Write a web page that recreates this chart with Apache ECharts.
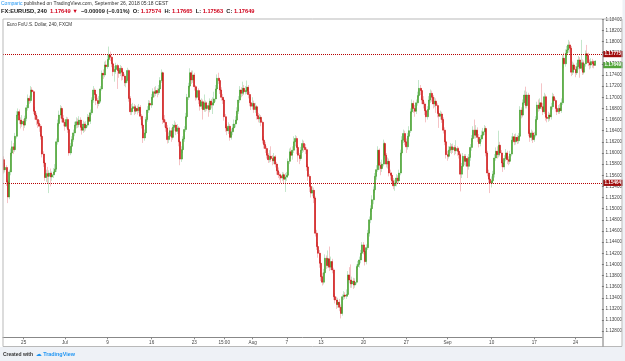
<!DOCTYPE html>
<html>
<head>
<meta charset="utf-8">
<script src="https://cdn.jsdelivr.net/npm/echarts@6/dist/echarts.min.js"></script>
<style>
html, body { margin: 0; padding: 0; background: #fff; }
#chart { width: 625px; height: 361px; }
</style>
</head>
<body>
<div id="chart"></div>
<script>
// EURUSD 4H candles (open of each bar = previous close)
var firstOpen = 1.1588;
var closes = [
    1.1570,1.1574,1.1548,1.1521,1.1566,1.1600,1.1611,1.1606,1.1630,1.1668,
    1.1674,1.1659,1.1652,1.1657,1.1650,1.1662,1.1681,1.1698,1.1694,1.1713,
    1.1710,1.1675,1.1668,1.1660,1.1653,1.1648,1.1630,1.1598,1.1582,1.1556,
    1.1563,1.1558,1.1564,1.1557,1.1561,1.1566,1.1571,1.1620,1.1653,1.1668,
    1.1680,1.1662,1.1655,1.1648,1.1660,1.1642,1.1600,1.1612,1.1624,1.1636,
    1.1650,1.1656,1.1651,1.1659,1.1646,1.1641,1.1652,1.1645,1.1650,1.1664,
    1.1657,1.1672,1.1695,1.1713,1.1705,1.1694,1.1689,1.1693,1.1715,1.1743,
    1.1740,1.1758,1.1755,1.1768,1.1776,1.1772,1.1760,1.1746,1.1750,1.1757,
    1.1748,1.1743,1.1752,1.1745,1.1738,1.1726,1.1730,1.1748,1.1698,1.1674,
    1.1680,1.1683,1.1675,1.1680,1.1676,1.1682,1.1666,1.1650,1.1627,1.1636,
    1.1660,1.1677,1.1689,1.1686,1.1700,1.1710,1.1707,1.1712,1.1708,1.1715,
    1.1730,1.1744,1.1660,1.1655,1.1645,1.1624,1.1630,1.1640,1.1628,1.1646,
    1.1650,1.1639,1.1645,1.1620,1.1589,1.1606,1.1625,1.1642,1.1665,1.1700,
    1.1720,1.1744,1.1731,1.1740,1.1719,1.1700,1.1712,1.1695,1.1684,1.1692,
    1.1678,1.1690,1.1680,1.1685,1.1678,1.1693,1.1686,1.1690,1.1697,1.1715,
    1.1734,1.1730,1.1713,1.1700,1.1695,1.1665,1.1645,1.1640,1.1648,1.1628,
    1.1638,1.1645,1.1652,1.1659,1.1675,1.1695,1.1713,1.1707,1.1716,1.1710,
    1.1712,1.1718,1.1705,1.1690,1.1684,1.1689,1.1678,1.1683,1.1667,1.1661,
    1.1664,1.1655,1.1623,1.1615,1.1608,1.1596,1.1588,1.1594,1.1590,1.1586,
    1.1593,1.1580,1.1568,1.1561,1.1559,1.1555,1.1561,1.1553,1.1557,1.1560,
    1.1585,1.1602,1.1596,1.1605,1.1620,1.1626,1.1610,1.1596,1.1590,1.1605,
    1.1617,1.1610,1.1606,1.1575,1.1558,1.1540,1.1528,1.1533,1.1519,1.1456,
    1.1432,1.1420,1.1402,1.1378,1.1368,1.1385,1.1411,1.1398,1.1410,1.1395,
    1.1405,1.1390,1.1342,1.1336,1.1328,1.1332,1.1323,1.1312,1.1342,1.1345,
    1.1343,1.1346,1.1381,1.1372,1.1365,1.1370,1.1363,1.1368,1.1396,1.1400,
    1.1408,1.1420,1.1435,1.1423,1.1405,1.1430,1.1456,1.1480,1.1500,1.1516,
    1.1534,1.1558,1.1570,1.1605,1.1578,1.1572,1.1580,1.1617,1.1596,1.1580,
    1.1585,1.1564,1.1560,1.1550,1.1541,1.1546,1.1555,1.1550,1.1564,1.1600,
    1.1623,1.1635,1.1620,1.1611,1.1630,1.1640,1.1674,1.1689,1.1680,1.1675,
    1.1690,1.1703,1.1716,1.1712,1.1695,1.1688,1.1676,1.1665,1.1678,1.1695,
    1.1707,1.1700,1.1688,1.1693,1.1685,1.1671,1.1666,1.1670,1.1660,1.1641,
    1.1620,1.1597,1.1594,1.1605,1.1611,1.1606,1.1610,1.1604,1.1608,1.1603,
    1.1597,1.1562,1.1576,1.1594,1.1585,1.1590,1.1576,1.1592,1.1610,1.1626,
    1.1641,1.1632,1.1641,1.1628,1.1617,1.1625,1.1632,1.1638,1.1644,1.1600,
    1.1564,1.1553,1.1546,1.1550,1.1562,1.1591,1.1603,1.1597,1.1614,1.1600,
    1.1582,1.1575,1.1590,1.1600,1.1588,1.1585,1.1598,1.1623,1.1629,1.1620,
    1.1628,1.1622,1.1630,1.1677,1.1668,1.1690,1.1704,1.1685,1.1704,1.1635,
    1.1628,1.1636,1.1624,1.1632,1.1660,1.1686,1.1680,1.1690,1.1683,1.1674,
    1.1701,1.1664,1.1662,1.1668,1.1665,1.1683,1.1701,1.1694,1.1680,1.1674,
    1.1680,1.1676,1.1690,1.1770,1.1760,1.1779,1.1785,1.1794,1.1788,1.1745,
    1.1758,1.1750,1.1744,1.1755,1.1767,1.1752,1.1762,1.1745,1.1760,1.1778,
    1.1775,1.1762,1.1758,1.1764,1.1760,1.17574,1.17649
];
var highs = [
    1.1594,1.1582,1.1578,1.1552,1.1570,1.1608,1.1622,1.1618,1.1636,1.1675,
    1.1680,1.1678,1.1664,1.1668,1.1661,1.1667,1.1686,1.1705,1.1703,1.1720,
    1.1718,1.1713,1.1683,1.1672,1.1666,1.1659,1.1652,1.1634,1.1603,1.1587,
    1.1570,1.1575,1.1569,1.1572,1.1567,1.1573,1.1580,1.1626,1.1660,1.1676,
    1.1686,1.1684,1.1668,1.1660,1.1665,1.1664,1.1645,1.1618,1.1630,1.1642,
    1.1656,1.1664,1.1662,1.1666,1.1664,1.1652,1.1658,1.1656,1.1657,1.1670,
    1.1668,1.1678,1.1700,1.1720,1.1716,1.1708,1.1699,1.1702,1.1720,1.1748,
    1.1750,1.1764,1.1766,1.1776,1.1791,1.1782,1.1775,1.1764,1.1756,1.1762,
    1.1760,1.1753,1.1758,1.1756,1.1750,1.1742,1.1737,1.1753,1.1750,1.1702,
    1.1688,1.1690,1.1688,1.1686,1.1685,1.1688,1.1686,1.1670,1.1654,1.1642,
    1.1665,1.1684,1.1695,1.1694,1.1706,1.1716,1.1718,1.1720,1.1716,1.1722,
    1.1736,1.1750,1.1746,1.1668,1.1660,1.1650,1.1637,1.1646,1.1645,1.1652,
    1.1658,1.1655,1.1652,1.1648,1.1624,1.1612,1.1630,1.1648,1.1672,1.1706,
    1.1726,1.1752,1.1748,1.1748,1.1744,1.1722,1.1718,1.1716,1.1700,1.1698,
    1.1696,1.1705,1.1694,1.1692,1.1690,1.1698,1.1697,1.1700,1.1710,1.1722,
    1.1741,1.1744,1.1735,1.1718,1.1706,1.1698,1.1670,1.1652,1.1655,1.1652,
    1.1644,1.1652,1.1660,1.1666,1.1682,1.1702,1.1720,1.1718,1.1728,1.1722,
    1.1720,1.1730,1.1722,1.1710,1.1700,1.1700,1.1694,1.1690,1.1686,1.1672,
    1.1670,1.1668,1.1658,1.1630,1.1620,1.1612,1.1600,1.1605,1.1612,1.1596,
    1.1600,1.1596,1.1584,1.1574,1.1566,1.1563,1.1566,1.1565,1.1564,1.1566,
    1.1590,1.1608,1.1610,1.1612,1.1630,1.1632,1.1630,1.1614,1.1600,1.1611,
    1.1624,1.1622,1.1616,1.1610,1.1580,1.1562,1.1546,1.1540,1.1538,1.1522,
    1.1462,1.1440,1.1426,1.1408,1.1385,1.1392,1.1418,1.1416,1.1425,1.1432,
    1.1414,1.1410,1.1394,1.1348,1.1342,1.1340,1.1338,1.1328,1.1346,1.1352,
    1.1350,1.1355,1.1388,1.1395,1.1400,1.1378,1.1376,1.1375,1.1400,1.1406,
    1.1414,1.1426,1.1440,1.1440,1.1428,1.1436,1.1462,1.1486,1.1506,1.1524,
    1.1540,1.1564,1.1578,1.1612,1.1608,1.1584,1.1588,1.1624,1.1620,1.1600,
    1.1592,1.1590,1.1570,1.1566,1.1555,1.1552,1.1562,1.1560,1.1570,1.1606,
    1.1630,1.1642,1.1640,1.1626,1.1636,1.1648,1.1680,1.1696,1.1694,1.1686,
    1.1696,1.1710,1.1731,1.1722,1.1716,1.1702,1.1692,1.1680,1.1684,1.1702,
    1.1714,1.1712,1.1704,1.1700,1.1698,1.1689,1.1676,1.1676,1.1674,1.1664,
    1.1646,1.1624,1.1604,1.1612,1.1618,1.1616,1.1617,1.1614,1.1623,1.1612,
    1.1610,1.1600,1.1582,1.1600,1.1598,1.1598,1.1594,1.1598,1.1616,1.1632,
    1.1648,1.1660,1.1650,1.1646,1.1634,1.1632,1.1640,1.1645,1.1650,1.1648,
    1.1604,1.1570,1.1560,1.1558,1.1568,1.1598,1.1610,1.1612,1.1640,1.1620,
    1.1605,1.1588,1.1596,1.1607,1.1604,1.1594,1.1604,1.1630,1.1636,1.1634,
    1.1635,1.1632,1.1636,1.1684,1.1682,1.1696,1.1712,1.1719,1.1710,1.1708,
    1.1642,1.1642,1.1640,1.1638,1.1666,1.1692,1.1696,1.1698,1.1725,1.1690,
    1.1708,1.1705,1.1670,1.1674,1.1672,1.1690,1.1708,1.1706,1.1698,1.1686,
    1.1686,1.1688,1.1698,1.1776,1.1780,1.1786,1.1792,1.1803,1.1800,1.1792,
    1.1764,1.1762,1.1756,1.1762,1.1774,1.1772,1.1803,1.1768,1.1766,1.1784,
    1.1794,1.1780,1.1768,1.1770,1.1769,1.1766,1.17665
];
var lows = [
    1.1563,1.1565,1.1541,1.1510,1.1517,1.1560,1.1594,1.1598,1.1602,1.1626,
    1.1660,1.1652,1.1644,1.1647,1.1640,1.1645,1.1657,1.1676,1.1688,1.1690,
    1.1700,1.1670,1.1660,1.1650,1.1645,1.1638,1.1624,1.1592,1.1575,1.1550,
    1.1548,1.1545,1.1528,1.1540,1.1550,1.1555,1.1560,1.1566,1.1615,1.1648,
    1.1662,1.1655,1.1648,1.1640,1.1644,1.1636,1.1595,1.1596,1.1606,1.1620,
    1.1630,1.1644,1.1645,1.1646,1.1640,1.1633,1.1636,1.1638,1.1640,1.1646,
    1.1650,1.1652,1.1668,1.1690,1.1698,1.1686,1.1680,1.1684,1.1690,1.1712,
    1.1733,1.1736,1.1748,1.1751,1.1764,1.1765,1.1754,1.1738,1.1728,1.1742,
    1.1715,1.1735,1.1738,1.1730,1.1731,1.1720,1.1718,1.1726,1.1692,1.1668,
    1.1668,1.1674,1.1668,1.1670,1.1669,1.1672,1.1660,1.1644,1.1618,1.1622,
    1.1632,1.1656,1.1672,1.1679,1.1681,1.1695,1.1700,1.1702,1.1700,1.1704,
    1.1711,1.1726,1.1652,1.1646,1.1638,1.1617,1.1618,1.1625,1.1620,1.1624,
    1.1640,1.1632,1.1634,1.1612,1.1578,1.1584,1.1600,1.1620,1.1638,1.1660,
    1.1695,1.1716,1.1724,1.1726,1.1712,1.1694,1.1696,1.1688,1.1676,1.1679,
    1.1660,1.1674,1.1674,1.1676,1.1665,1.1673,1.1680,1.1670,1.1685,1.1692,
    1.1710,1.1724,1.1706,1.1694,1.1688,1.1658,1.1638,1.1632,1.1634,1.1622,
    1.1624,1.1632,1.1640,1.1646,1.1654,1.1670,1.1690,1.1700,1.1702,1.1704,
    1.1705,1.1706,1.1698,1.1684,1.1677,1.1678,1.1672,1.1672,1.1660,1.1655,
    1.1654,1.1648,1.1617,1.1608,1.1600,1.1590,1.1582,1.1583,1.1584,1.1578,
    1.1580,1.1574,1.1561,1.1555,1.1552,1.1546,1.1550,1.1546,1.1530,1.1550,
    1.1555,1.1580,1.1590,1.1588,1.1600,1.1612,1.1598,1.1584,1.1580,1.1586,
    1.1600,1.1602,1.1598,1.1568,1.1550,1.1530,1.1520,1.1522,1.1510,1.1450,
    1.1426,1.1412,1.1394,1.1370,1.1362,1.1364,1.1380,1.1392,1.1394,1.1388,
    1.1390,1.1384,1.1336,1.1330,1.1320,1.1322,1.1316,1.1303,1.1308,1.1336,
    1.1338,1.1338,1.1342,1.1366,1.1358,1.1358,1.1356,1.1358,1.1364,1.1390,
    1.1394,1.1402,1.1415,1.1418,1.1398,1.1400,1.1426,1.1450,1.1474,1.1494,
    1.1508,1.1528,1.1552,1.1566,1.1570,1.1560,1.1566,1.1576,1.1590,1.1574,
    1.1572,1.1558,1.1552,1.1544,1.1535,1.1532,1.1540,1.1544,1.1545,1.1560,
    1.1595,1.1618,1.1614,1.1600,1.1606,1.1625,1.1636,1.1670,1.1672,1.1665,
    1.1670,1.1685,1.1698,1.1704,1.1688,1.1680,1.1668,1.1655,1.1660,1.1674,
    1.1690,1.1692,1.1680,1.1682,1.1672,1.1664,1.1645,1.1660,1.1654,1.1635,
    1.1614,1.1590,1.1586,1.1590,1.1600,1.1598,1.1600,1.1596,1.1598,1.1595,
    1.1590,1.1531,1.1555,1.1570,1.1578,1.1576,1.1555,1.1570,1.1586,1.1604,
    1.1620,1.1626,1.1626,1.1620,1.1610,1.1612,1.1620,1.1627,1.1632,1.1594,
    1.1558,1.1546,1.1528,1.1538,1.1545,1.1556,1.1586,1.1590,1.1592,1.1594,
    1.1575,1.1566,1.1570,1.1585,1.1580,1.1578,1.1580,1.1594,1.1618,1.1614,
    1.1615,1.1616,1.1617,1.1626,1.1662,1.1664,1.1686,1.1680,1.1680,1.1630,
    1.1620,1.1622,1.1618,1.1620,1.1628,1.1655,1.1674,1.1676,1.1678,1.1668,
    1.1670,1.1658,1.1655,1.1656,1.1658,1.1660,1.1678,1.1688,1.1674,1.1668,
    1.1670,1.1670,1.1672,1.1686,1.1752,1.1755,1.1772,1.1780,1.1780,1.1738,
    1.1740,1.1743,1.1736,1.1740,1.1750,1.1735,1.1748,1.1740,1.1741,1.1755,
    1.1768,1.1756,1.1750,1.1752,1.1753,1.1752,1.17563
];

// time axis labels (bar index -> text)
var tickIdx = [14, 43, 73, 104, 134, 155, 175, 199, 223, 253, 283, 312, 343, 373, 402];
var tickText = ['25', 'Jul', '9', '16', '23', '15:00', 'Aug', '7', '13', '20', '27', 'Sep', '10', '17', '24'];

// price scale labels
var priceTicks = [];
for (var p = 1128; p <= 1184; p += 2) priceTicks.push(p / 1000);

var levels = [1.17775, 1.15464];
var lastPrice = 1.17649;
var emptySlots = 4;

var FONT = 'Liberation Sans, Arial, sans-serif';

var cats = [];
for (var i = 0; i < closes.length + emptySlots; i++) cats.push(String(i));

var full = [], bodies = [];
for (var i = 0; i < closes.length; i++) {
    var o = i === 0 ? firstOpen : closes[i - 1];
    var c = closes[i];
    full.push([o, c, lows[i], highs[i]]);
    bodies.push([o, c, Math.min(o, c), Math.max(o, c)]);
}

var isTick = function (idx) { return tickIdx.indexOf(idx) >= 0; };

var priceLabel = {
    show: true, position: 'end', distance: 1, color: '#fff',
    fontSize: 4.6, fontWeight: 'bold', fontFamily: FONT,
    backgroundColor: '#a00c0c', padding: [0.8, 1.6, 0.4, 1.6],
    formatter: function (p) { return Number(p.value).toFixed(5); }
};

var chart = echarts.init(document.getElementById('chart'));
var option = {
    backgroundColor: '#fff',
    animation: false,
    textStyle: {fontFamily: FONT},
    title: [
        {
            left: 1, top: 1.5, padding: 0,
            text: '{b|Comparic} published on TradingView.com, September 26, 2018 05:18 CEST',
            textStyle: {fontSize: 5, fontWeight: 'normal', color: '#333', fontFamily: FONT,
                rich: {b: {fontSize: 5, color: '#2196f3', fontFamily: FONT}}}
        },
        {
            left: 1, top: 8.3, padding: 0,
            text: '{k|FX:EURUSD, 240}  {r|1.17649 \u25BC}  \u22120.00009 (\u22120.01%)  O: {r|1.17574}  H: {r|1.17665}  L: {r|1.17563}  C: {r|1.17649}',
            textStyle: {fontSize: 5.7, fontWeight: 'bold', color: '#222', fontFamily: FONT,
                rich: {
                    k: {fontSize: 5.7, fontWeight: 'bold', color: '#111', fontFamily: FONT},
                    r: {fontSize: 5.7, fontWeight: 'bold', color: '#d0021b', fontFamily: FONT}
                }}
        },
        {
            left: 7, top: 22, padding: 0,
            text: 'Euro Fx/U.S. Dollar, 240, FXCM',
            textStyle: {fontSize: 4.6, fontWeight: 'normal', color: '#333', fontFamily: FONT}
        },
        {
            left: 3, top: 351.5, padding: 0,
            text: 'Created with  {c|\u2601} {t|TradingView}',
            textStyle: {fontSize: 5, fontWeight: 'bold', color: '#333', fontFamily: FONT,
                rich: {
                    c: {fontSize: 6, color: '#2196f3', fontFamily: 'DejaVu Sans'},
                    t: {fontSize: 5.4, fontWeight: 'bold', color: '#2196f3', fontFamily: FONT}
                }}
        }
    ],
    graphic: [
        {type: 'rect', silent: true, z: -10, shape: {x: 0, y: 347, width: 625, height: 14},
            style: {fill: '#eef1f6'}},
        {type: 'rect', silent: true, z: -10, shape: {x: 622.5, y: 0, width: 3, height: 361},
            style: {fill: '#eef1f6'}},
        {type: 'rect', silent: true, z: 10, shape: {x: 3, y: 19, width: 619, height: 327.5},
            style: {fill: null, stroke: '#b9b9b9', lineWidth: 1}},
        {type: 'line', silent: true, z: 10, shape: {x1: 603, y1: 19, x2: 603, y2: 346.5},
            style: {stroke: '#777', lineWidth: 1}}
    ],
    grid: {left: 3, right: 22, top: 19, bottom: 23.7, containLabel: false},
    xAxis: {
        type: 'category',
        data: cats,
        boundaryGap: true,
        axisLine: {show: true, lineStyle: {color: '#888', width: 1}},
        axisTick: {show: true, interval: isTick, alignWithLabel: true, length: 2,
            lineStyle: {color: '#888'}},
        axisLabel: {show: true, interval: isTick, margin: 3, fontSize: 4.6, color: '#444',
            fontFamily: FONT,
            formatter: function (v) { return tickText[tickIdx.indexOf(Number(v))] || ''; }},
        splitLine: {show: false}
    },
    yAxis: {
        type: 'value',
        position: 'right',
        min: 1.12691,
        max: 1.18405,
        axisLine: {show: false},
        axisTick: {show: true, length: 2, customValues: priceTicks, lineStyle: {color: '#777'}},
        axisLabel: {show: true, customValues: priceTicks, margin: 3.5, fontSize: 4.6,
            color: '#444', fontFamily: FONT,
            formatter: function (v) { return v.toFixed(5); }},
        splitLine: {show: false}
    },
    series: [
        {
            name: 'wick',
            type: 'candlestick',
            data: full,
            barWidth: 1,
            silent: true,
            itemStyle: {color: '#c4e6cb', color0: '#f5c3c6', borderColor: '#c4e6cb',
                borderColor0: '#f5c3c6', borderWidth: 1},
            z: 2
        },
        {
            name: 'body',
            type: 'candlestick',
            data: bodies,
            barWidth: 1.5,
            silent: true,
            itemStyle: {color: '#3f9c24', color0: '#cc0a0a', borderColor: '#3f9c24',
                borderColor0: '#cc0a0a', borderWidth: 0.5},
            z: 3
        },
        {
            name: 'levels',
            type: 'line',
            data: [],
            silent: true,
            z: 4,
            markLine: {
                silent: true,
                precision: 5,
                symbol: ['none', 'none'],
                lineStyle: {color: '#b80000', type: 'dotted', width: 1},
                label: priceLabel,
                data: [
                    {yAxis: levels[0]},
                    {yAxis: levels[1]},
                    {yAxis: lastPrice, lineStyle: {color: 'rgba(0,0,0,0)', width: 0},
                        label: {backgroundColor: '#52a53a', offset: [0, 4]}}
                ]
            }
        }
    ]
};
chart.setOption(option);
</script>
</body>
</html>
